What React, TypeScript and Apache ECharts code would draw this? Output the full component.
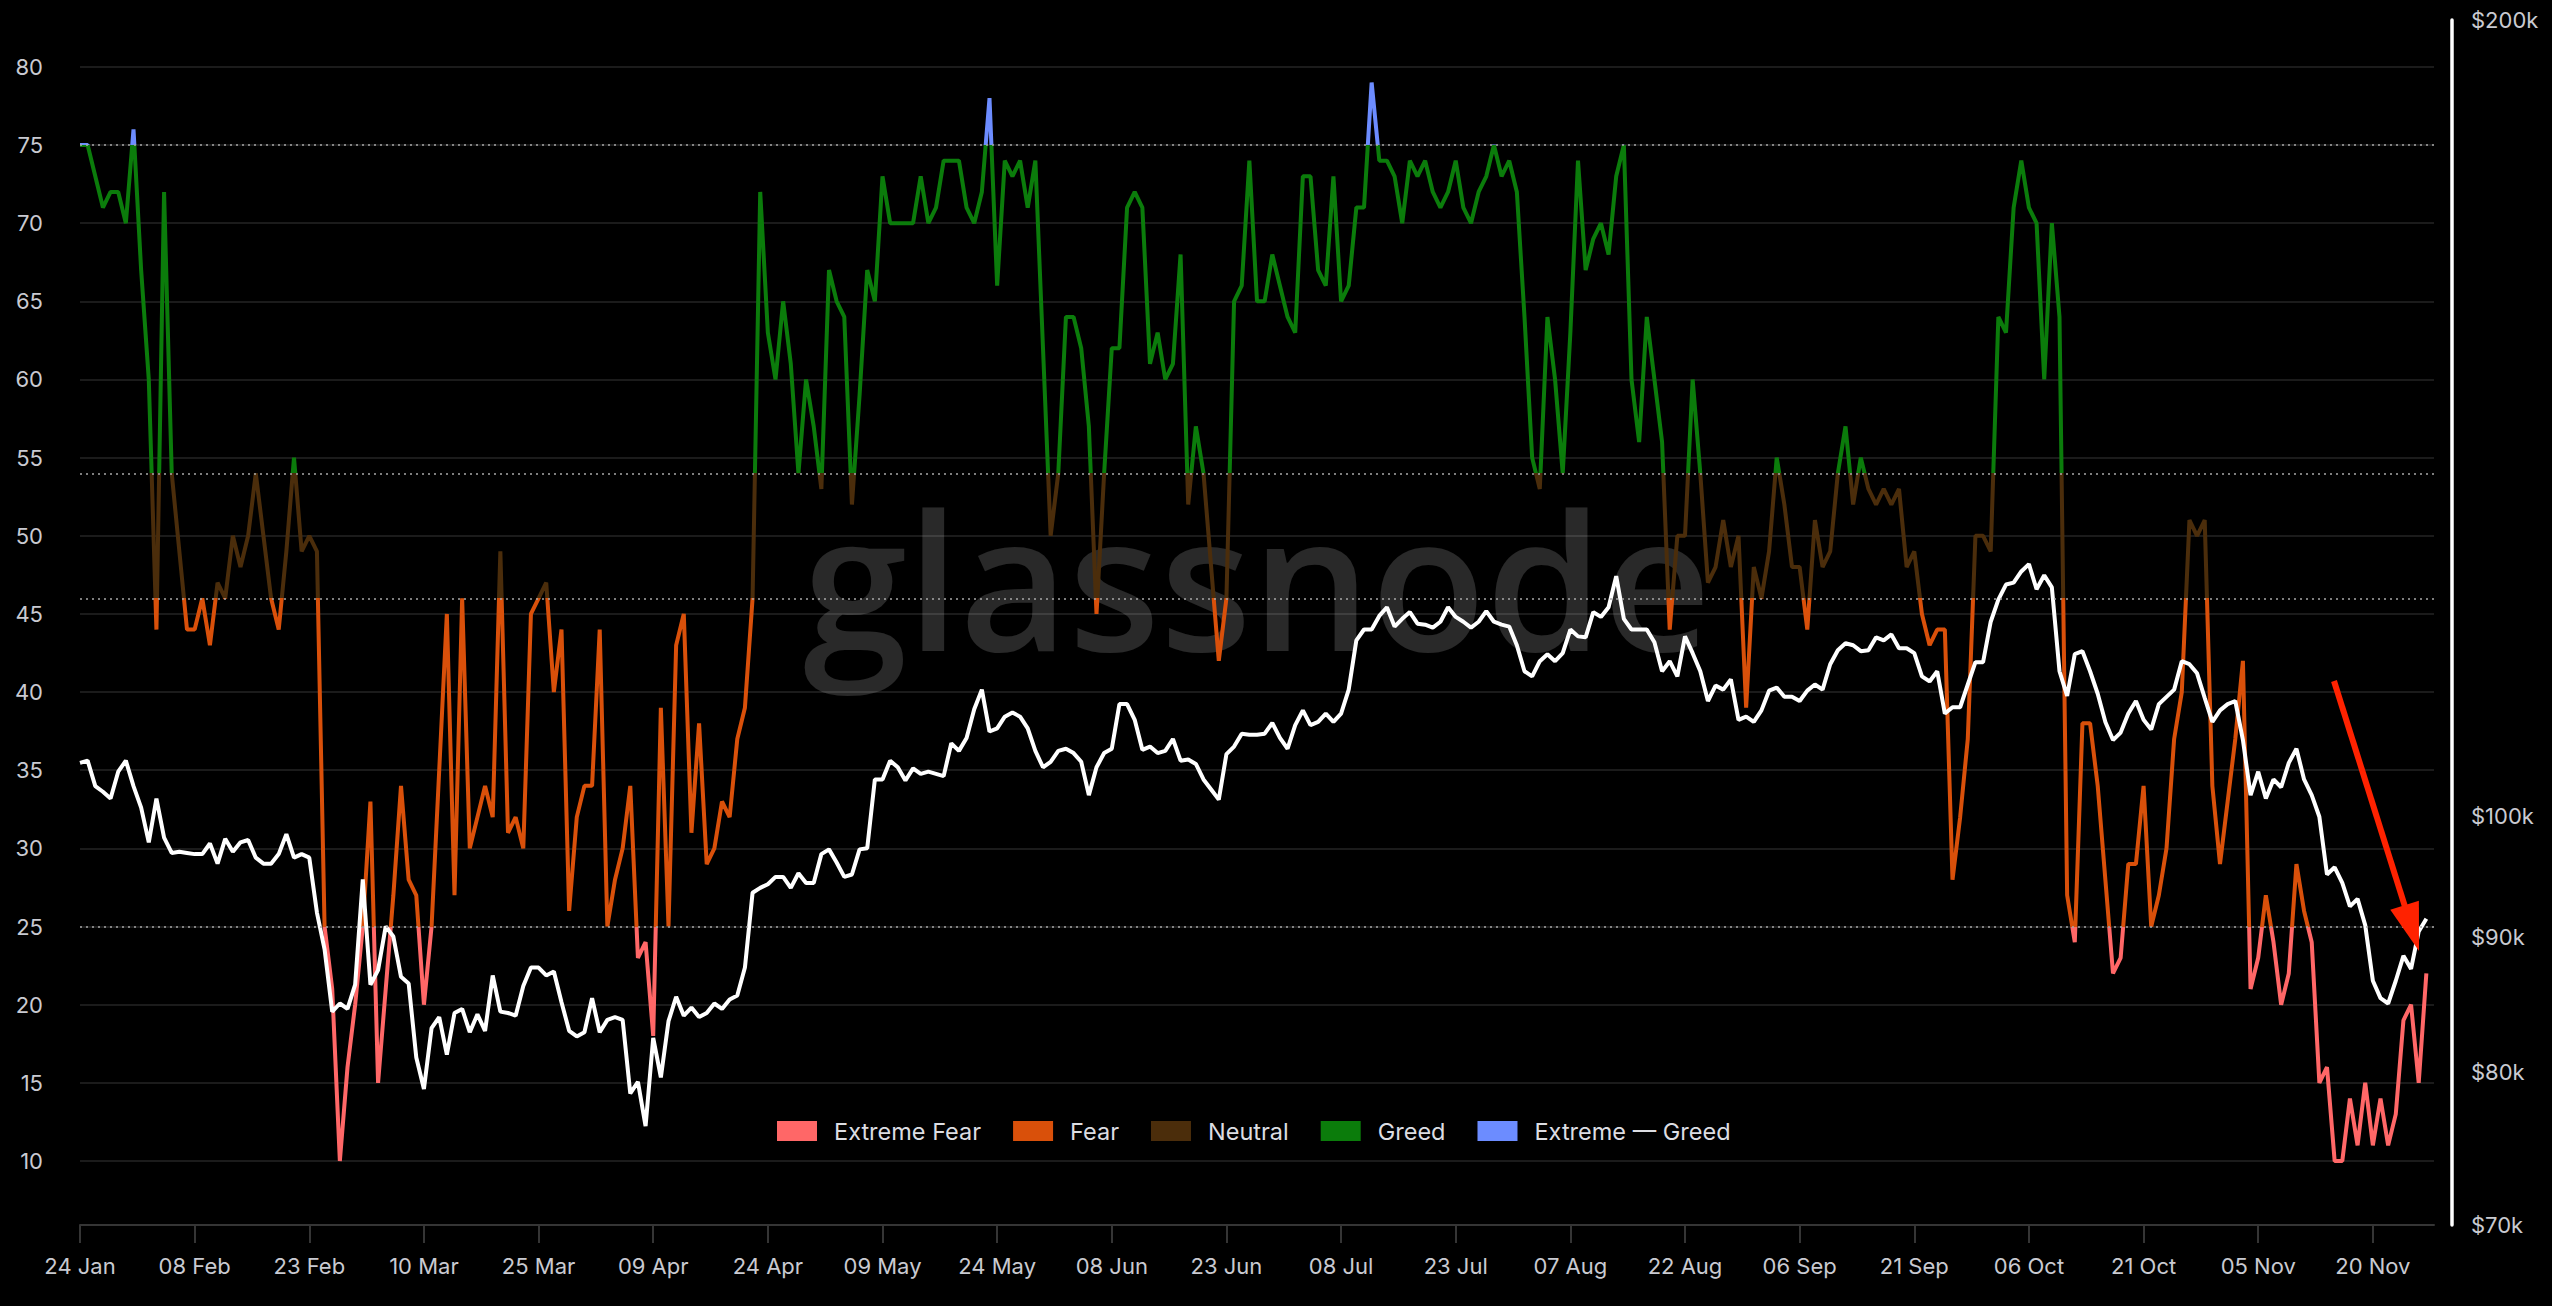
import React, { useEffect, useRef } from "react";
import * as echarts from "echarts";

// ---------- data ----------
const START_DATE = Date.UTC(2025, 0, 24);
const DAY_COUNT = 309; // 24 Jan .. 28 Nov (last slot has no value)
const MONTHS = ["Jan", "Feb", "Mar", "Apr", "May", "Jun", "Jul", "Aug", "Sep", "Oct", "Nov", "Dec"];
const dateLabels: string[] = Array.from({ length: DAY_COUNT }, (_, i) => {
  const d = new Date(START_DATE + i * 86400000);
  return `${String(d.getUTCDate()).padStart(2, "0")} ${MONTHS[d.getUTCMonth()]}`;
});

const fearGreed = [
  75, 75, 73, 71, 72, 72, 70, 76, 67, 60,
  44, 72, 54, 49, 44, 44, 46, 43, 47, 46,
  50, 48, 50, 54, 50, 46, 44, 49, 55, 49,
  50, 49, 25, 21, 10, 16, 20, 25, 33, 15,
  21, 27, 34, 28, 27, 20, 25, 35, 45, 27,
  46, 30, 32, 34, 32, 49, 31, 32, 30, 45,
  46, 47, 40, 44, 26, 32, 34, 34, 44, 25,
  28, 30, 34, 23, 24, 18, 39, 25, 43, 45,
  31, 38, 29, 30, 33, 32, 37, 39, 46, 72,
  63, 60, 65, 61, 54, 60, 57, 53, 67, 65,
  64, 52, 59, 67, 65, 73, 70, 70, 70, 70,
  73, 70, 71, 74, 74, 74, 71, 70, 72, 78,
  66, 74, 73, 74, 71, 74, 62, 50, 54, 64,
  64, 62, 57, 45, 54, 62, 62, 71, 72, 71,
  61, 63, 60, 61, 68, 52, 57, 54, 48, 42,
  46, 65, 66, 74, 65, 65, 68, 66, 64, 63,
  73, 73, 67, 66, 73, 65, 66, 71, 71, 79,
  74, 74, 73, 70, 74, 73, 74, 72, 71, 72,
  74, 71, 70, 72, 73, 75, 73, 74, 72, 64,
  55, 53, 64, 60, 54, 63, 74, 67, 69, 70,
  68, 73, 75, 60, 56, 64, 60, 56, 44, 50,
  50, 60, 54, 47, 48, 51, 48, 50, 39, 48,
  46, 49, 55, 52, 48, 48, 44, 51, 48, 49,
  54, 57, 52, 55, 53, 52, 53, 52, 53, 48,
  49, 45, 43, 44, 44, 28, 32, 37, 50, 50,
  49, 64, 63, 71, 74, 71, 70, 60, 70, 64,
  27, 24, 38, 38, 34, 28, 22, 23, 29, 29,
  34, 25, 27, 30, 37, 40, 51, 50, 51, 34,
  29, 33, 37, 42, 21, 23, 27, 24, 20, 22,
  29, 26, 24, 15, 16, 10, 10, 14, 11, 15,
  11, 14, 11, 13, 19, 20, 15, 22,
];

const btcPrice = [
  104700, 104900, 102600, 102100, 101500, 103900, 104900, 102600, 100700, 97700,
  101500, 98100, 96800, 96900, 96800, 96700, 96700, 97600, 95900, 98000,
  96900, 97700, 97900, 96400, 95900, 95900, 96700, 98400, 96400, 96700,
  96400, 91900, 89000, 84300, 84900, 84500, 86300, 94600, 86300, 87400,
  90800, 90000, 86900, 86400, 81000, 78800, 83100, 83900, 81200, 84200,
  84500, 82800, 84100, 82900, 87000, 84300, 84200, 84000, 86200, 87600,
  87600, 87000, 87300, 85000, 82900, 82500, 82800, 85300, 82800, 83700,
  83900, 83700, 78500, 79300, 76300, 82400, 79600, 83600, 85400, 84000,
  84600, 83900, 84200, 84900, 84500, 85200, 85500, 87600, 93500, 93900,
  94200, 94800, 94800, 93900, 95100, 94300, 94300, 96700, 97100, 96000,
  94800, 95000, 97100, 97200, 103200, 103200, 104900, 104300, 103100, 104200,
  103700, 103900, 103700, 103500, 106500, 105800, 107000, 109700, 111600, 107600,
  107900, 109000, 109400, 109000, 107900, 105800, 104300, 104800, 105800, 106000,
  105600, 104800, 101800, 104300, 105600, 106000, 110200, 110200, 108700, 105900,
  106200, 105600, 105800, 106900, 104900, 105000, 104600, 103200, 102300, 101400,
  105500, 106200, 107400, 107300, 107300, 107400, 108400, 107000, 106000, 108200,
  109600, 108200, 108500, 109300, 108500, 109300, 111600, 116500, 117600, 117600,
  119000, 119900, 117900, 118700, 119400, 118200, 118100, 117800, 118400, 119900,
  118900, 118400, 117800, 118400, 119500, 118400, 118100, 117900, 116000, 113400,
  112900, 114400, 115100, 114400, 115200, 117600, 116900, 116800, 119400, 118900,
  119900, 123200, 118700, 117600, 117600, 117600, 116300, 113400, 114400, 112900,
  116900, 115200, 113400, 110500, 112000, 111600, 112600, 108700, 109000, 108500,
  109600, 111500, 111800, 110900, 110900, 110500, 111500, 112100, 111600, 114100,
  115500, 116200, 116000, 115400, 115500, 116800, 116500, 117100, 115700, 115700,
  115200, 112900, 112400, 113400, 109300, 109900, 109900, 112100, 114300, 114300,
  118400, 120700, 122300, 122500, 123700, 124500, 121800, 123300, 122000, 113400,
  111000, 115100, 115400, 113400, 111200, 108500, 106800, 107500, 109300, 110500,
  108700, 107800, 110200, 110900, 111600, 114400, 114100, 113200, 110800, 108500,
  109600, 110200, 110500, 106800, 101800, 103900, 101500, 103200, 102500, 104700,
  106000, 103200, 101800, 99900, 95000, 95600, 94300, 92400, 93000, 90900,
  86600, 85300, 84900, 86600, 88500, 87500, 90400, 91400,
];

const leftTicks = [10, 15, 20, 25, 30, 35, 40, 45, 50, 55, 60, 65, 70, 75, 80];
const rightTicks = [70000, 80000, 90000, 100000, 200000];
const thresholds = [25, 46, 54, 75];

const zoneLabels = ["Extreme Fear", "Fear", "Neutral", "Greed", "Extreme — Greed"];
const zoneColors = ["#ff6767", "#d9500a", "#4b2d0b", "#0b7c0b", "#6c8cff"];
const zoneBounds = [0, 25, 46, 54, 75, 101];

const LABEL_COLOR = "#c9cad1";

export default function App() {
  const ref = useRef<HTMLDivElement>(null);

  useEffect(() => {
    document.body.style.margin = "0";
    document.body.style.background = "#000";
    if (!ref.current) return;
    const chart = echarts.init(ref.current, undefined, { renderer: "svg" });

    const pieces = zoneLabels.map((label, i) => ({
      gte: zoneBounds[i],
      lt: zoneBounds[i + 1],
      label,
      color: zoneColors[i],
    }));

    // arrow geometry (annotation)
    const start = [2334, 681];
    const tip = [2419, 951];
    const dx = tip[0] - start[0];
    const dy = tip[1] - start[1];
    const len = Math.sqrt(dx * dx + dy * dy);
    const ux = dx / len;
    const uy = dy / len;
    const headLen = 48;
    const headHalf = 15;
    const base = [tip[0] - ux * headLen, tip[1] - uy * headLen];
    const px = -uy;
    const py = ux;

    const option: any = {
      animation: false,
      backgroundColor: "#000",
      textStyle: { fontFamily: "Inter, Roboto, sans-serif" },
      grid: { left: 80, right: 118, top: 20, bottom: 81, containLabel: false },
      xAxis: {
        type: "category",
        data: dateLabels,
        boundaryGap: false,
        axisLine: { show: true, lineStyle: { color: "#353535", width: 2 } },
        axisTick: { show: true, interval: 14, length: 18, lineStyle: { color: "#353535", width: 2 } },
        axisLabel: { interval: 14, color: LABEL_COLOR, fontSize: 22, margin: 30 },
        splitLine: { show: false },
      },
      yAxis: [
        {
          type: "value",
          min: 5.905,
          max: 83,
          position: "left",
          axisLine: { show: false },
          axisTick: { show: false, customValues: leftTicks },
          axisLabel: { customValues: leftTicks, color: LABEL_COLOR, fontSize: 22, margin: 37 },
          splitLine: { show: true, lineStyle: { color: "#1b1b1b", width: 2 } },
        },
        {
          type: "log",
          logBase: 10,
          min: 70000,
          max: 200000,
          position: "right",
          offset: 18,
          axisLine: { show: true, lineStyle: { color: "#ffffff", width: 3.5 } },
          axisTick: { show: false, customValues: rightTicks },
          axisLabel: {
            customValues: rightTicks,
            formatter: (v: number) => "$" + Math.round(v / 1000) + "k",
            color: LABEL_COLOR,
            fontSize: 22,
            margin: 19,
          },
          splitLine: { show: false },
        },
      ],
      visualMap: {
        type: "piecewise",
        seriesIndex: 0,
        dimension: 1,
        orient: "horizontal",
        left: 777,
        top: 1119,
        padding: 0,
        itemWidth: 40,
        itemHeight: 20,
        itemGap: 32,
        textGap: 17,
        itemSymbol: "rect",
        selectedMode: false,
        textStyle: { color: "#dcdde2", fontSize: 23.5, fontFamily: "Inter, Roboto, sans-serif" },
        pieces,
      },
      series: [
        {
          type: "line",
          name: "Fear & Greed Index",
          data: fearGreed,
          yAxisIndex: 0,
          showSymbol: false,
          symbol: "none",
          lineStyle: { width: 4 },
          z: 3,
          markLine: {
            silent: true,
            symbol: ["none", "none"],
            label: { show: false },
            lineStyle: { color: "#a8a8a8", type: [2, 4], width: 1.5 },
            emphasis: { disabled: true },
            data: thresholds.map((v) => ({ yAxis: v })),
          },
        },
        {
          type: "line",
          name: "BTC Price",
          data: btcPrice,
          yAxisIndex: 1,
          showSymbol: false,
          symbol: "none",
          lineStyle: { width: 4, color: "#ffffff" },
          itemStyle: { color: "#ffffff" },
          z: 4,
        },
      ],
      graphic: [
        {
          type: "text",
          z: 1,
          silent: true,
          x: 1257,
          y: 578,
          style: {
            text: "glassnode",
            fill: "rgba(255,255,255,0.16)",
            fontSize: 188,
            fontWeight: 600,
            fontFamily: "'Open Sans', sans-serif",
            align: "center",
            verticalAlign: "middle",
          },
        },
        {
          type: "line",
          z: 100,
          silent: true,
          shape: { x1: start[0], y1: start[1], x2: base[0] + ux * 4, y2: base[1] + uy * 4 },
          style: { stroke: "#ff2200", lineWidth: 6 },
        },
        {
          type: "polygon",
          z: 100,
          silent: true,
          shape: {
            points: [
              [tip[0], tip[1]],
              [base[0] + px * headHalf, base[1] + py * headHalf],
              [base[0] - px * headHalf, base[1] - py * headHalf],
            ],
          },
          style: { fill: "#ff2200" },
        },
      ],
    };

    chart.setOption(option);
    return () => chart.dispose();
  }, []);

  return <div ref={ref} style={{ width: 2552, height: 1306, background: "#000" }} />;
}
